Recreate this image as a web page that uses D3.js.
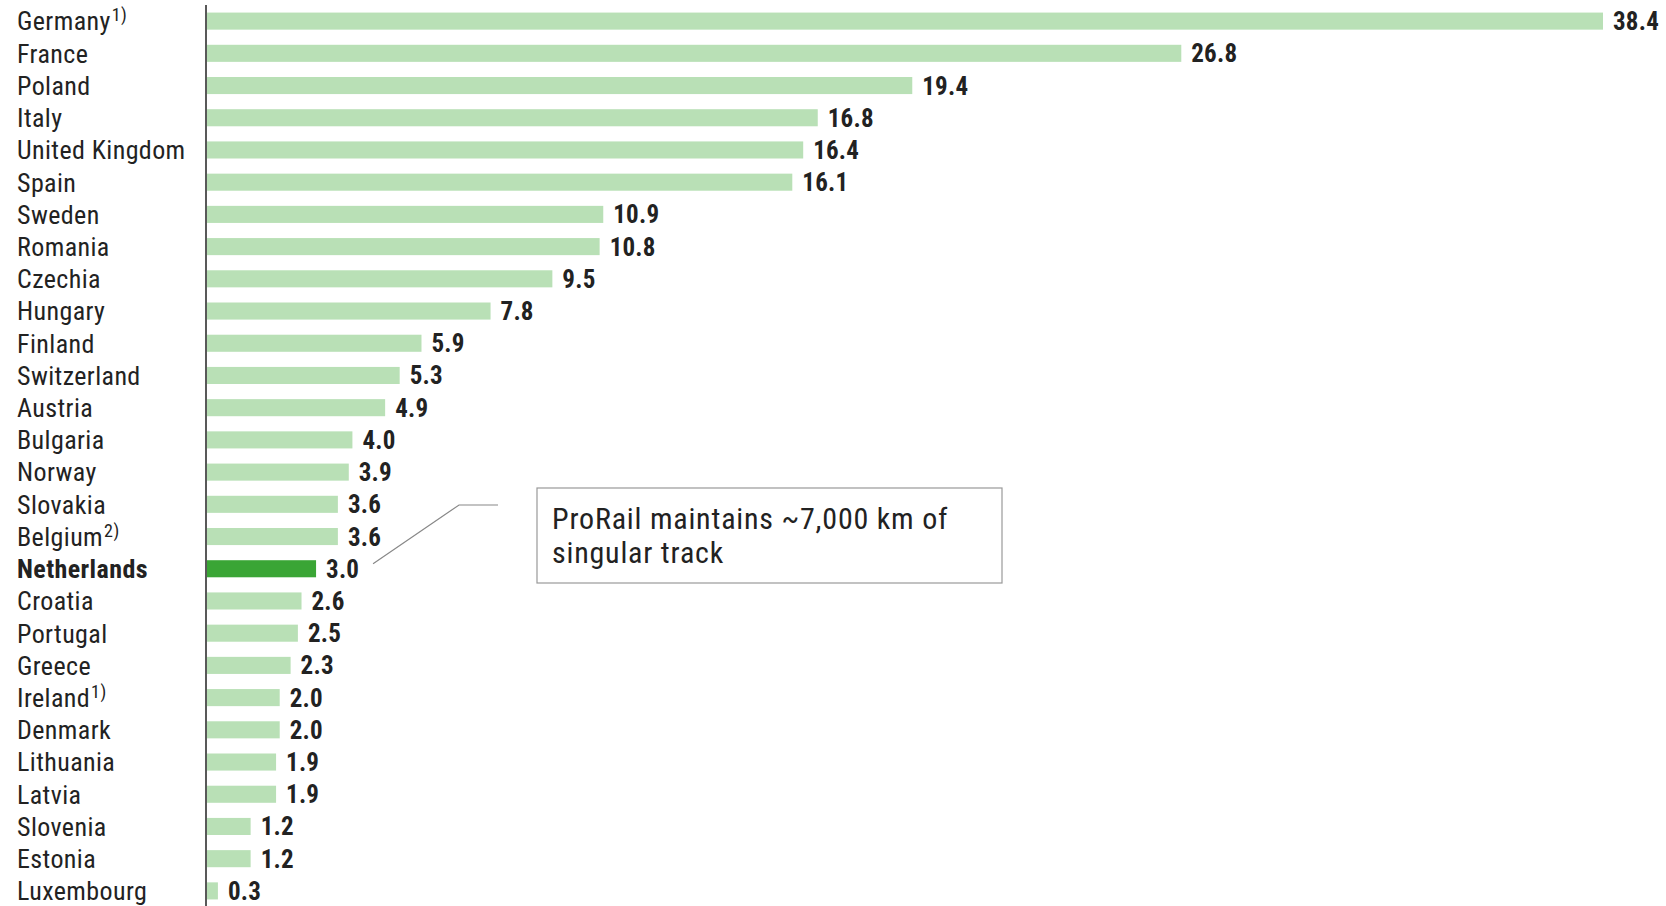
<!DOCTYPE html>
<html>
<head>
<meta charset="utf-8">
<script src="https://cdn.jsdelivr.net/npm/d3@7"></script>
<style>
  body { margin: 0; background: #fff; }
  svg text { font-family: "Liberation Sans Narrow", "Roboto Condensed", "Arial Narrow", "Liberation Sans", sans-serif; }
</style>
</head>
<body>
<div id="chart"></div>
<script>
// Countries, values and footnote marks
const countries = ["Germany", "France", "Poland", "Italy", "United Kingdom", "Spain", "Sweden", "Romania",
  "Czechia", "Hungary", "Finland", "Switzerland", "Austria", "Bulgaria", "Norway", "Slovakia", "Belgium",
  "Netherlands", "Croatia", "Portugal", "Greece", "Ireland", "Denmark", "Lithuania", "Latvia", "Slovenia",
  "Estonia", "Luxembourg"];
const values = [38.4, 26.8, 19.4, 16.8, 16.4, 16.1, 10.9, 10.8, 9.5, 7.8, 5.9, 5.3, 4.9, 4.0, 3.9, 3.6, 3.6,
  3.0, 2.6, 2.5, 2.3, 2.0, 2.0, 1.9, 1.9, 1.2, 1.2, 0.3];
const footnotes = { "Germany": "1)", "Belgium": "2)", "Ireland": "1)" };
const highlight = "Netherlands";
const note = ["ProRail maintains ~7,000 km of", "singular track"];

const data = countries.map((c, i) => ({ country: c, value: values[i] }));

const width = 1666, height = 906;

const svg = d3.select("#chart")
  .append("svg")
  .attr("width", width)
  .attr("height", height);

// Scales
const x = d3.scaleLinear()
  .domain([0, 38.4])
  .range([207, 1603]);

const y = d3.scaleBand()
  .domain(countries)
  .range([5, 907])
  .paddingInner(0.47)
  .paddingOuter(0.235);

// Bars
svg.selectAll("rect.bar")
  .data(data)
  .join("rect")
  .attr("class", "bar")
  .attr("x", x(0))
  .attr("y", d => y(d.country))
  .attr("width", d => x(d.value) - x(0))
  .attr("height", y.bandwidth())
  .attr("fill", d => d.country === highlight ? "#3aa535" : "#b9e0b6");

// Value labels
svg.selectAll("text.val")
  .data(data)
  .join("text")
  .attr("class", "val")
  .attr("x", d => x(d.value) + 10)
  .attr("y", d => y(d.country) + y.bandwidth() / 2)
  .attr("dy", "0.36em")
  .attr("font-size", 25)
  .attr("letter-spacing", 0.2)
  .attr("font-weight", "bold")
  .attr("fill", "#222")
  .text(d => d.value.toFixed(1));

// Category labels
const labels = svg.selectAll("text.cat")
  .data(data)
  .join("text")
  .attr("class", "cat")
  .attr("x", 17)
  .attr("y", d => y(d.country) + y.bandwidth() / 2)
  .attr("dy", "0.36em")
  .attr("font-size", 26)
  .attr("letter-spacing", 0.4)
  .attr("font-weight", d => d.country === highlight ? "bold" : "normal")
  .attr("fill", "#222")
  .text(d => d.country);

labels.filter(d => footnotes[d.country])
  .append("tspan")
  .attr("font-size", 18)
  .attr("dx", 1)
  .attr("dy", "-0.5em")
  .text(d => footnotes[d.country]);

// Axis line
svg.append("line")
  .attr("x1", 206).attr("x2", 206)
  .attr("y1", 5).attr("y2", height)
  .attr("stroke", "#222")
  .attr("stroke-width", 1.5);

// Annotation leader line and box
const ny = y(highlight) + y.bandwidth() / 2;
svg.append("polyline")
  .attr("points", `${x(3.0) + 57},${ny - 5} ${459},${505} ${498},${505}`)
  .attr("fill", "none")
  .attr("stroke", "#888")
  .attr("stroke-width", 1.2);

svg.append("rect")
  .attr("x", 537)
  .attr("y", 488)
  .attr("width", 465)
  .attr("height", 95)
  .attr("fill", "#fff")
  .attr("stroke", "#999")
  .attr("stroke-width", 1.2);

svg.append("text")
  .attr("x", 552)
  .attr("y", 529)
  .attr("font-size", 30)
  .attr("letter-spacing", 0.8)
  .attr("fill", "#222")
  .selectAll("tspan")
  .data(note)
  .join("tspan")
  .attr("x", 552)
  .attr("dy", (d, i) => i === 0 ? 0 : 34)
  .text(d => d);
</script>
</body>
</html>
